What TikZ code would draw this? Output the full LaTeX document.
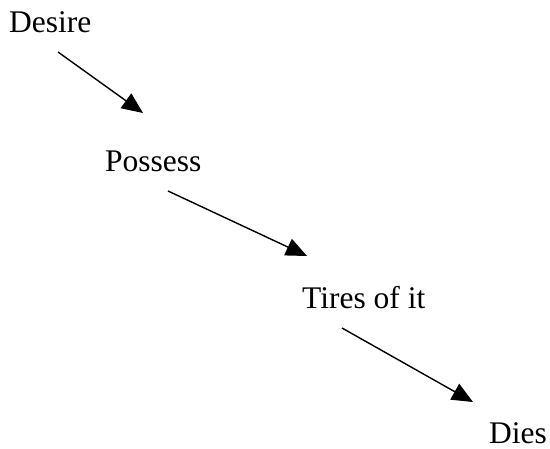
\documentclass[tikz,border=0pt]{standalone}
\usepackage{fontspec}
\setmainfont{Liberation Serif}
\usetikzlibrary{arrows.meta}
\begin{document}
\begin{tikzpicture}[x=1pt,y=-1pt,
  stage/.style={anchor=base west,inner sep=0pt,font=\fontsize{31.5}{36}\selectfont},
  flow/.style={line width=1.4pt,-{Triangle[length=21pt,width=18pt]}}]
\useasboundingbox (0,0) rectangle (550,449);
% stages
\node[stage] (desire)  at (9,33)    {Desire};
\node[stage] (possess) at (105,172) {Possess};
\node[stage] (tires)   at (302,309) {Tires of it};
\node[stage] (dies)    at (489,443.5) {Dies};
% arrow end points
\coordinate (s1) at (58,52);   \coordinate (e1) at (143,113);
\coordinate (s2) at (168,191); \coordinate (e2) at (307,256);
\coordinate (s3) at (342,328); \coordinate (e3) at (473,402);
\draw[flow] (s1) -- (e1);
\draw[flow] (s2) -- (e2);
\draw[flow] (s3) -- (e3);
\end{tikzpicture}
\end{document}
